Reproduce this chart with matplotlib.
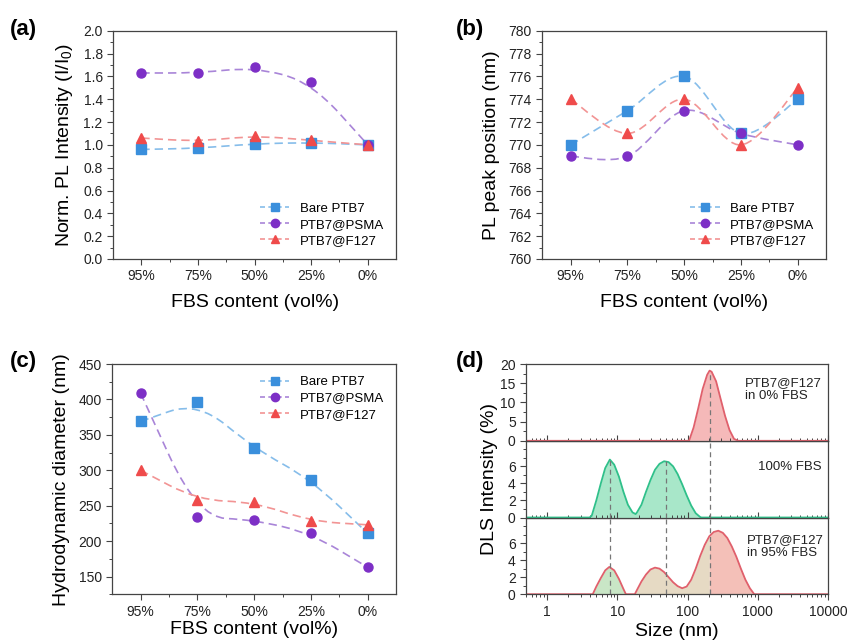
import numpy as np
import matplotlib
matplotlib.use('Agg')
import matplotlib.pyplot as plt
from matplotlib.path import Path
from matplotlib.patches import PathPatch
from matplotlib.lines import Line2D
from matplotlib.ticker import MultipleLocator, FixedLocator, NullFormatter, LogLocator

plt.rcParams['font.family'] = ['Liberation Sans', 'DejaVu Sans']
plt.rcParams['mathtext.fontset'] = 'custom'
plt.rcParams['mathtext.rm'] = 'Liberation Sans'
plt.rcParams['mathtext.it'] = 'Liberation Sans:italic'

# ---- data ----
fbs_labels = ['95%', '75%', '50%', '25%', '0%']
series_names = ['Bare PTB7', 'PTB7@PSMA', 'PTB7@F127']

pl_int_bare = [0.96, 0.97, 1.01, 1.02, 1.00]
pl_int_psma = [1.63, 1.63, 1.68, 1.55, 1.00]
pl_int_f127 = [1.06, 1.03, 1.08, 1.04, 1.00]

pl_pos_bare = [770, 773, 776, 771, 774]
pl_pos_psma = [769, 769, 773, 771, 770]
pl_pos_f127 = [774, 771, 774, 770, 775]

dh_bare = [369, 397, 331, 287, 211]
dh_psma = [409, 234, 230, 211, 163]
dh_f127 = [300, 258, 255, 228, 223]

# DLS size distributions (size nm, intensity %)
dls0_size = [0.4, 105, 122, 142, 164, 190, 206, 220, 255, 295, 342, 396, 459, 530, 10000]
dls0_int = [0, 0, 3.5, 8.5, 13.5, 17.2, 18.3, 18.0, 15.5, 11.0, 6.5, 2.8, 0.5, 0, 0]

fbs_size = [0.4, 4.0, 4.3, 5.0, 5.8, 6.7, 7.8, 9.0, 10.5, 12.2, 14.1, 16.4, 18.2, 19.0, 22.0, 25.5,
            29.6, 34.3, 39.8, 46.2, 53.6, 62.2, 72.1, 83.7, 97.0, 112.6, 130.6, 151.5, 158, 10000]
fbs_int = [0, 0, 0.2, 2.0, 4.0, 5.8, 6.8, 6.2, 4.8, 3.0, 1.5, 0.6, 0.4, 0.6, 1.5, 3.0,
           4.4, 5.6, 6.3, 6.6, 6.5, 6.0, 5.1, 3.9, 2.6, 1.4, 0.5, 0.05, 0, 0]

dls95_size = [0.4, 4.45, 5.0, 5.8, 6.7, 7.66, 9.0, 10.5, 12.2, 13.2, 17.7, 19.0, 22.0, 25.5, 29.6,
              34.3, 39.8, 46.2, 53.6, 62.2, 72.1, 83.7, 97.0, 112.6, 130.6, 151.5, 175.8, 204, 236,
              274, 318, 368, 427, 495, 575, 667, 773, 892, 10000]
dls95_int = [0, 0, 0.9, 1.9, 2.8, 3.2, 2.8, 1.8, 0.6, 0, 0, 0.5, 1.5, 2.3, 2.9,
             3.12, 3.0, 2.6, 2.0, 1.4, 0.95, 0.7, 0.9, 1.7, 3.0, 4.5, 5.8, 6.8, 7.3,
             7.45, 7.2, 6.6, 5.6, 4.4, 3.0, 1.7, 0.7, 0, 0]

peak_sizes = [7.8, 50, 210]
peak_tops = [6.8, 6.6, 18.3]

# ---- style ----
MK = ['#3a8fdc', '#7d2fc6', '#ef4b4b']
LN = ['#86bdea', '#a985d8', '#f29494']
MARKERS = ['s', 'o', '^']
SPINE = '#444444'
RED_L, RED_F = '#e0606c', '#f5b9b9'
GRN_L, GRN_F = '#2fc08a', '#a8e7c9'
TAN_F = '#e6dac4'


def smooth_path(xs, ys, interp):
    pts = np.column_stack([xs, ys]).astype(float)
    n = len(pts)
    verts, codes = [pts[0]], [Path.MOVETO]
    if interp:
        for i in range(n - 1):
            p0, p1 = pts[max(i - 1, 0)], pts[i]
            p2, p3 = pts[i + 1], pts[min(i + 2, n - 1)]
            verts += [p1 + (p2 - p0) / 6, p2 - (p3 - p1) / 6, p2]
            codes += [Path.CURVE4] * 3
    else:
        verts.append((pts[0] + pts[1]) / 2); codes.append(Path.LINETO)
        for i in range(1, n - 1):
            verts += [pts[i], (pts[i] + pts[i + 1]) / 2]
            codes += [Path.CURVE3] * 2
        verts.append(pts[-1]); codes.append(Path.LINETO)
    return Path(verts, codes)


def style_axes(ax):
    for s in ax.spines.values():
        s.set_color(SPINE); s.set_linewidth(0.9)
    ax.tick_params(which='both', direction='out', colors=SPINE, labelcolor='#222222', labelsize=10)
    ax.tick_params(which='major', length=4, width=0.8)
    ax.tick_params(which='minor', length=2.2, width=0.7)


def line_panel(ax, data, ylim, major, minor, ylabel, interp, legend_loc, xpad=8):
    x = np.arange(len(fbs_labels))
    for k, ys in enumerate(data):
        ax.add_patch(PathPatch(smooth_path(x, ys, interp), facecolor='none', edgecolor=LN[k],
                               lw=1.2, ls=(0, (5, 3)), zorder=2))
    for k, ys in enumerate(data):
        ax.plot(x, ys, ls='none', marker=MARKERS[k], color=MK[k], ms=6.5, zorder=3)
    ax.set_xlim(-0.5, 4.5); ax.set_ylim(*ylim)
    ax.set_xticks(x); ax.set_xticklabels(fbs_labels)
    ax.xaxis.set_minor_locator(FixedLocator(x[:-1] + 0.5))
    ax.yaxis.set_major_locator(MultipleLocator(major))
    ax.yaxis.set_minor_locator(MultipleLocator(minor))
    style_axes(ax)
    ax.set_xlabel('FBS content (vol%)', fontsize=14, labelpad=xpad)
    ax.set_ylabel(ylabel, fontsize=14, labelpad=6)
    handles = [Line2D([0], [0], color=LN[k], ls=(0, (3, 2)), lw=1.2, marker=MARKERS[k],
                      mfc=MK[k], mec=MK[k], ms=6) for k in range(3)]
    ax.legend(handles, series_names, loc=legend_loc, frameon=False, fontsize=9.5,
              handlelength=2.2, labelspacing=0.3, handletextpad=0.8)


fig = plt.figure(figsize=(8.5, 6.41), dpi=100)

ax_a = fig.add_axes([0.133, 0.596, 0.333, 0.356])
line_panel(ax_a, [pl_int_bare, pl_int_psma, pl_int_f127], (0, 2.0), 0.2, 0.1,
           'Norm. PL Intensity (I/I$_0$)', False, 'lower right')

ax_b = fig.add_axes([0.638, 0.596, 0.334, 0.356])
line_panel(ax_b, [pl_pos_bare, pl_pos_psma, pl_pos_f127], (760, 780), 2, 1,
           'PL peak position (nm)', True, 'lower right')

ax_c = fig.add_axes([0.132, 0.073, 0.334, 0.359])
line_panel(ax_c, [dh_bare, dh_psma, dh_f127], (125, 450), 50, 25,
           'Hydrodynamic diameter (nm)', False, 'upper right', xpad=2)

# ---- panel d ----
d_left, d_w, d_bot, d_top = 0.619, 0.355, 0.073, 0.432
h = (d_top - d_bot) / 3
ax_d3 = fig.add_axes([d_left, d_bot, d_w, h])
ax_d2 = fig.add_axes([d_left, d_bot + h, d_w, h], sharex=ax_d3)
ax_d1 = fig.add_axes([d_left, d_bot + 2 * h, d_w, h], sharex=ax_d3)

s0, i0 = np.array(dls0_size), np.array(dls0_int)
ax_d1.fill_between(s0, 0, i0, color=RED_F, lw=0)
ax_d1.plot(s0, i0, color=RED_L, lw=1.3)

s1, i1 = np.array(fbs_size), np.array(fbs_int)
ax_d2.fill_between(s1, 0, i1, color=GRN_F, lw=0)
ax_d2.plot(s1, i1, color=GRN_L, lw=1.3)

s2, i2 = np.array(dls95_size), np.array(dls95_int)
ax_d3.fill_between(s2, 0, i2, where=s2 <= 13.2, color='#c9e6c6', lw=0)
ax_d3.fill_between(s2, 0, i2, where=(s2 >= 17.7) & (s2 <= 204), color=TAN_F, lw=0)
ax_d3.fill_between(s2, 0, i2, where=s2 >= 204, color='#f4c0b8', lw=0)
ax_d3.plot(s2, i2, color=RED_L, lw=1.3)

# dashed guide lines through the peak maxima
for ps, pt in zip(peak_sizes, peak_tops):
    ax_d3.axvline(ps, color='#777777', ls=(0, (4, 3)), lw=0.9, zorder=4)
    if ps == peak_sizes[-1]:
        ax_d2.axvline(ps, color='#777777', ls=(0, (4, 3)), lw=0.9, zorder=4)
        ax_d1.vlines(ps, 0, pt, color='#777777', ls=(0, (4, 3)), lw=0.9, zorder=4)
    else:
        ax_d2.vlines(ps, 0, pt, color='#777777', ls=(0, (4, 3)), lw=0.9, zorder=4)

ax_d3.set_xscale('log')
ax_d3.set_xlim(0.5, 10000)
ax_d3.set_xticks([1, 10, 100, 1000, 10000])
ax_d3.set_xticklabels(['1', '10', '100', '1000', '10000'])
ax_d3.xaxis.set_minor_locator(LogLocator(base=10, subs=np.arange(2, 10)))
ax_d3.xaxis.set_minor_formatter(NullFormatter())

ax_d1.set_ylim(0, 20); ax_d1.set_yticks([0, 5, 10, 15, 20])
ax_d1.yaxis.set_minor_locator(MultipleLocator(2.5))
for ax in (ax_d2, ax_d3):
    ax.set_ylim(0, 9); ax.set_yticks([0, 2, 4, 6])
    ax.yaxis.set_minor_locator(MultipleLocator(1))
for ax in (ax_d1, ax_d2, ax_d3):
    style_axes(ax)
for ax in (ax_d1, ax_d2):
    ax.tick_params(axis='x', which='both', direction='in', labelbottom=False)
ax_d3.set_xlabel('Size (nm)', fontsize=14, labelpad=3)

ax_d1.text(0.725, 0.67, 'PTB7@F127\nin 0% FBS', transform=ax_d1.transAxes, fontsize=9.5,
           va='center', ha='left', linespacing=1.15, color='#222222')
ax_d2.text(0.768, 0.66, '100% FBS', transform=ax_d2.transAxes, fontsize=9.5,
           va='center', ha='left', color='#222222')
ax_d3.text(0.732, 0.625, 'PTB7@F127\nin 95% FBS', transform=ax_d3.transAxes, fontsize=9.5,
           va='center', ha='left', linespacing=1.15, color='#222222')
fig.text(0.576, 0.253, 'DLS Intensity (%)', rotation=90, fontsize=14, ha='center', va='center')

# panel letters
for lbl, xp, yp in [('(a)', 10, 30), ('(b)', 456, 30), ('(c)', 10, 362), ('(d)', 456, 362)]:
    fig.text(xp / 850, 1 - yp / 641, lbl, fontsize=16, fontweight='bold', ha='left', va='center')

fig.savefig('out.png', dpi=100)
